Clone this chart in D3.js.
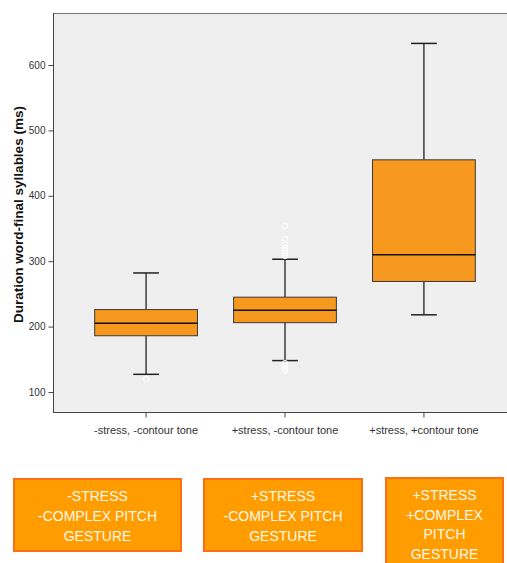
<!DOCTYPE html>
<html>
<head>
<meta charset="utf-8">
<script src="https://cdn.jsdelivr.net/npm/d3@7/dist/d3.min.js"></script>
<style>
  html, body { margin: 0; padding: 0; background: #ffffff; }
  svg { display: block; }
</style>
</head>
<body>
<div id="chart"></div>
<script>
// Box plot data: duration of word-final syllables (ms) per condition
const categories = ["-stress, -contour tone", "+stress, -contour tone", "+stress, +contour tone"];
const whiskerLow  = [127, 148, 218];
const q1          = [186, 206, 269];
const median      = [205, 225, 310];
const q3          = [226, 245, 455];
const whiskerHigh = [282, 303, 633];
const outliers = [
  [120],
  [354, 334, 325, 320, 316, 312, 308, 144, 140, 136, 133],
  []
];
const yTicks = [100, 200, 300, 400, 500, 600];
const yLabel = "Duration word-final syllables (ms)";

// Annotation boxes below the chart
const captions = [
  ["-STRESS", "-COMPLEX PITCH", "GESTURE"],
  ["+STRESS", "-COMPLEX PITCH", "GESTURE"],
  ["+STRESS", "+COMPLEX", "PITCH", "GESTURE"]
];

const W = 507, H = 563;
const plot = { left: 53, right: 517, top: 13, bottom: 412 };

const svg = d3.select("#chart").append("svg")
  .attr("width", W).attr("height", H);

const x = d3.scaleBand()
  .domain(categories)
  .range([plot.left, plot.right])
  .paddingInner(0)
  .paddingOuter(0.17);

const y = d3.scaleLinear()
  .domain([69.4, 679.5])
  .range([plot.bottom, plot.top]);

// plot background
svg.append("rect")
  .attr("x", plot.left).attr("y", plot.top)
  .attr("width", plot.right - plot.left)
  .attr("height", plot.bottom - plot.top)
  .attr("fill", "#efefef");

// top frame line
svg.append("line")
  .attr("x1", plot.left).attr("x2", plot.right)
  .attr("y1", plot.top + 0.5).attr("y2", plot.top + 0.5)
  .attr("stroke", "#777").attr("stroke-width", 1);

// y axis
const yAxis = d3.axisLeft(y).tickValues(yTicks).tickSize(5).tickPadding(3);
const gy = svg.append("g")
  .attr("transform", `translate(${plot.left + 0.5},0)`)
  .call(yAxis);
gy.select(".domain").attr("stroke", "#444").attr("d", `M0,${plot.top}V${plot.bottom}`);
gy.selectAll(".tick line").attr("stroke", "#444");
gy.selectAll(".tick text")
  .attr("fill", "#333")
  .style("font-family", "Arial, 'Liberation Sans', sans-serif")
  .style("font-size", "10px");

// x axis
const xAxis = d3.axisBottom(x).tickSize(5).tickPadding(9);
const gx = svg.append("g")
  .attr("transform", `translate(0,${plot.bottom + 0.5})`)
  .call(xAxis);
gx.select(".domain").attr("stroke", "#444").attr("d", `M${plot.left},0H${plot.right}`);
gx.selectAll(".tick line").attr("stroke", "#444");
gx.selectAll(".tick text")
  .attr("fill", "#333")
  .style("font-family", "Arial, 'Liberation Sans', sans-serif")
  .style("font-size", "11px");

// y axis title
svg.append("text")
  .attr("transform", `translate(23,${(plot.top + plot.bottom) / 2 + 2}) rotate(-90)`)
  .attr("text-anchor", "middle")
  .style("font-family", "Arial, 'Liberation Sans', sans-serif")
  .style("font-size", "13.5px")
  .style("font-weight", "bold")
  .attr("fill", "#111")
  .text(yLabel);

// boxes
const boxW = x.bandwidth() * 0.74;
const capW = boxW * 0.25;
const boxes = categories.map((c, i) => ({
  c, lo: whiskerLow[i], q1: q1[i], med: median[i], q3: q3[i], hi: whiskerHigh[i], out: outliers[i]
}));

const g = svg.append("g");
boxes.forEach(b => {
  const cx = x(b.c) + x.bandwidth() / 2;
  // whiskers
  g.append("line").attr("x1", cx).attr("x2", cx)
    .attr("y1", y(b.hi)).attr("y2", y(b.q3))
    .attr("stroke", "#222").attr("stroke-width", 1.3);
  g.append("line").attr("x1", cx).attr("x2", cx)
    .attr("y1", y(b.q1)).attr("y2", y(b.lo))
    .attr("stroke", "#222").attr("stroke-width", 1.3);
  [b.hi, b.lo].forEach(v => {
    g.append("line")
      .attr("x1", cx - capW / 2).attr("x2", cx + capW / 2)
      .attr("y1", y(v)).attr("y2", y(v))
      .attr("stroke", "#222").attr("stroke-width", 1.5);
  });
  // box
  g.append("rect")
    .attr("x", cx - boxW / 2).attr("y", y(b.q3))
    .attr("width", boxW).attr("height", y(b.q1) - y(b.q3))
    .attr("fill", "#f7981f")
    .attr("stroke", "#3a3a3a").attr("stroke-width", 1);
  // median
  g.append("line")
    .attr("x1", cx - boxW / 2).attr("x2", cx + boxW / 2)
    .attr("y1", y(b.med)).attr("y2", y(b.med))
    .attr("stroke", "#111").attr("stroke-width", 1.5);
  // outliers
  b.out.forEach(v => {
    g.append("circle")
      .attr("cx", cx).attr("cy", y(v)).attr("r", 2.8)
      .attr("fill", "none")
      .attr("stroke", "#ffffff").attr("stroke-width", 1);
  });
});

// caption boxes
const capBoxes = [
  { x: 14, y: 479, w: 167, h: 72 },
  { x: 204, y: 479, w: 158, h: 72 },
  { x: 386, y: 478, w: 117, h: 95 }
];
const capTop = [496, 496, 495];
const lineGap = [20, 20, 19.5];
captions.forEach((lines, i) => {
  const bx = capBoxes[i];
  svg.append("rect")
    .attr("x", bx.x).attr("y", bx.y)
    .attr("width", bx.w).attr("height", bx.h)
    .attr("fill", "#ff9c00")
    .attr("stroke", "#ff6e12").attr("stroke-width", 2);
  lines.forEach((t, j) => {
    svg.append("text")
      .attr("x", bx.x + bx.w / 2)
      .attr("y", capTop[i] + j * lineGap[i])
      .attr("dy", "0.36em")
      .attr("text-anchor", "middle")
      .attr("fill", "#fff8e8")
      .style("font-family", "'Liberation Sans', Arial, sans-serif")
      .style("font-size", "14px")
      .text(t);
  });
});
</script>
</body>
</html>
